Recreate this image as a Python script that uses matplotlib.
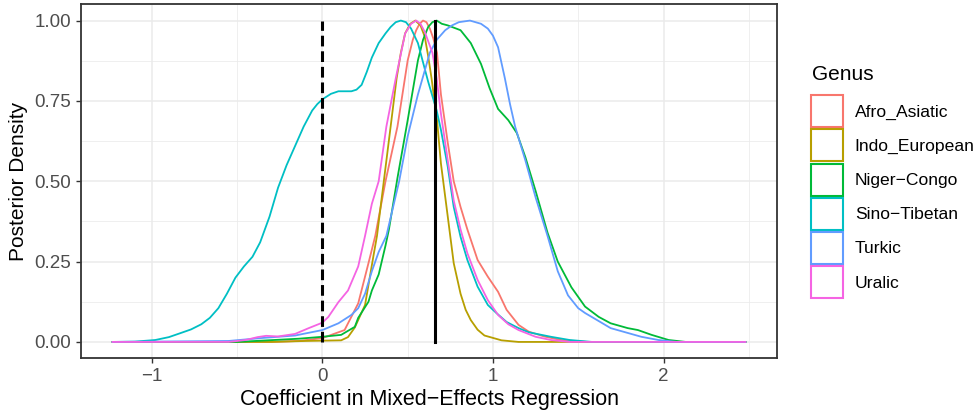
import matplotlib
matplotlib.use("Agg")
import matplotlib.pyplot as plt
from matplotlib.patches import Patch
from matplotlib.ticker import MultipleLocator

plt.rcParams["font.family"] = ["Liberation Sans", "DejaVu Sans"]

# genus names and ggplot hue colours
genera = ["Afro_Asiatic", "Indo_European", "Niger\u2212Congo", "Sino\u2212Tibetan", "Turkic", "Uralic"]
colors = ["#F8766D", "#B79F00", "#00BA38", "#00BFC4", "#619CFF", "#F564E3"]

# scaled posterior densities
afro_x = [-1.23, -0.30, -0.14, 0.00, 0.13, 0.21, 0.27, 0.31, 0.37, 0.44, 0.50, 0.53, 0.55, 0.57, 0.59,
          0.61, 0.63, 0.65, 0.672, 0.695, 0.735, 0.77, 0.81, 0.85, 0.91, 0.97, 1.03, 1.08, 1.15, 1.21,
          1.30, 1.40, 1.55, 2.48]
afro_y = [0, 0, 0.003, 0.012, 0.037, 0.12, 0.245, 0.33, 0.50, 0.67, 0.876, 0.94, 0.97, 0.99, 1.0,
          0.995, 0.975, 0.945, 0.90, 0.77, 0.62, 0.50, 0.42, 0.35, 0.255, 0.203, 0.156, 0.10, 0.053, 0.032,
          0.017, 0.006, 0, 0]

indo_x = [-1.23, -0.30, -0.10, 0.11, 0.15, 0.19, 0.25, 0.30, 0.32, 0.36, 0.40, 0.435, 0.46, 0.485,
          0.515, 0.545, 0.575, 0.60, 0.62, 0.64, 0.672, 0.695, 0.735, 0.77, 0.81, 0.84, 0.87, 0.91,
          0.95, 1.05, 1.15, 2.48]
indo_y = [0, 0, 0.003, 0.005, 0.015, 0.045, 0.115, 0.27, 0.33, 0.50, 0.67, 0.82, 0.90, 0.96,
          0.99, 1.0, 0.985, 0.95, 0.89, 0.82, 0.69, 0.555, 0.39, 0.245, 0.15, 0.10, 0.068, 0.038,
          0.02, 0.005, 0, 0]

niger_x = [-1.23, -0.50, -0.14, 0.00, 0.11, 0.19, 0.21, 0.27, 0.29, 0.33, 0.37, 0.39, 0.44, 0.50, 0.56,
           0.59, 0.62, 0.645, 0.67, 0.70, 0.735, 0.81, 0.87, 0.93, 0.98, 1.03, 1.09, 1.14, 1.19, 1.25,
           1.32, 1.38, 1.46, 1.54, 1.62, 1.69, 1.79, 1.85, 1.93, 2.03, 2.13, 2.48]
niger_y = [0, 0, 0.01, 0.016, 0.022, 0.047, 0.075, 0.125, 0.16, 0.21, 0.30, 0.35, 0.51, 0.69, 0.876,
           0.94, 0.98, 0.995, 1.0, 0.99, 0.985, 0.97, 0.93, 0.865, 0.79, 0.725, 0.69, 0.65, 0.575, 0.47,
           0.34, 0.25, 0.17, 0.11, 0.078, 0.058, 0.043, 0.037, 0.022, 0.006, 0, 0]

sino_x = [-1.23, -1.10, -0.98, -0.90, -0.84, -0.77, -0.71, -0.66, -0.61, -0.56, -0.51, -0.46, -0.41,
          -0.365, -0.31, -0.26, -0.21, -0.16, -0.11, -0.06, -0.03, 0.00, 0.05, 0.094, 0.17, 0.20, 0.23,
          0.26, 0.29, 0.33, 0.37, 0.40, 0.43, 0.46, 0.49, 0.52, 0.56, 0.59, 0.62, 0.67, 0.695, 0.735,
          0.77, 0.81, 0.85, 0.91, 0.97, 1.02, 1.08, 1.15, 1.21, 1.34, 1.45, 1.58, 2.48]
sino_y = [0, 0.001, 0.006, 0.015, 0.026, 0.039, 0.055, 0.075, 0.105, 0.15, 0.20, 0.235, 0.265,
          0.31, 0.39, 0.48, 0.55, 0.61, 0.67, 0.72, 0.74, 0.755, 0.772, 0.78, 0.78, 0.785, 0.80,
          0.84, 0.885, 0.93, 0.96, 0.98, 0.995, 1.0, 0.995, 0.975, 0.93, 0.87, 0.81, 0.72, 0.66, 0.545,
          0.42, 0.327, 0.255, 0.172, 0.115, 0.09, 0.062, 0.043, 0.03, 0.016, 0.006, 0, 0]

turkic_x = [-1.23, -0.55, -0.36, -0.16, 0.00, 0.094, 0.17, 0.21, 0.25, 0.29, 0.33, 0.375, 0.45, 0.50,
            0.56, 0.63, 0.67, 0.72, 0.76, 0.80, 0.865, 0.93, 0.97, 1.00, 1.03, 1.07, 1.10, 1.13, 1.19,
            1.25, 1.32, 1.38, 1.44, 1.50, 1.54, 1.62, 1.69, 1.79, 1.87, 1.97, 2.08, 2.48]
turkic_y = [0, 0.003, 0.012, 0.02, 0.037, 0.058, 0.084, 0.105, 0.15, 0.22, 0.28, 0.33, 0.50, 0.64,
            0.77, 0.90, 0.94, 0.97, 0.985, 0.995, 1.0, 0.99, 0.975, 0.953, 0.917, 0.82, 0.74, 0.67,
            0.565, 0.45, 0.33, 0.22, 0.145, 0.105, 0.09, 0.065, 0.043, 0.028, 0.016, 0.006, 0, 0]

uralic_x = [-1.23, -0.55, -0.45, -0.38, -0.33, -0.26, -0.16, -0.08, 0.00, 0.035, 0.094, 0.15, 0.21,
            0.25, 0.29, 0.33, 0.375, 0.43, 0.485, 0.52, 0.55, 0.575, 0.60, 0.645, 0.67, 0.695, 0.735,
            0.77, 0.81, 0.85, 0.91, 0.97, 1.03, 1.09, 1.15, 1.25, 1.34, 1.45, 2.48]
uralic_y = [0, 0, 0.006, 0.015, 0.019, 0.017, 0.025, 0.043, 0.06, 0.078, 0.124, 0.16, 0.235,
            0.33, 0.43, 0.50, 0.67, 0.82, 0.96, 0.99, 1.0, 0.99, 0.965, 0.90, 0.82, 0.71, 0.565,
            0.44, 0.35, 0.276, 0.193, 0.13, 0.084, 0.055, 0.037, 0.016, 0.006, 0, 0]

curves_x = [afro_x, indo_x, niger_x, sino_x, turkic_x, uralic_x]
curves_y = [afro_y, indo_y, niger_y, sino_y, turkic_y, uralic_y]

# reference lines: zero and the pooled estimate
zero_line = 0.0
pooled_estimate = 0.66

x_ticks = [-1, 0, 1, 2]
y_ticks = [0, 0.25, 0.5, 0.75, 1.0]

fig = plt.figure(figsize=(9.8, 4.15), dpi=100)
ax = fig.add_axes([81 / 980, 1 - 358 / 415, (777 - 81) / 980, (358 - 4.5) / 415])

for xs, ys, c, name in zip(curves_x, curves_y, colors, genera):
    ax.plot(xs, ys, color=c, lw=1.3, label=name, solid_joinstyle="round", zorder=3)

ax.plot([zero_line, zero_line], [0, 1], color="black", lw=2.2, ls=(0, (3.5, 1.6)), zorder=4)
ax.plot([pooled_estimate, pooled_estimate], [0, 1], color="black", lw=2.2, zorder=4)

# ggplot-like 5% expansion
xmin = min(min(x) for x in curves_x)
xmax = max(max(x) for x in curves_x)
pad = (xmax - xmin) * 0.05
ax.set_xlim(xmin - pad, xmax + pad)
ax.set_ylim(-0.05, 1.05)

ax.set_xticks(x_ticks)
ax.set_xticklabels(["\u22121", "0", "1", "2"])
ax.set_yticks(y_ticks)
ax.set_yticklabels(["0.00", "0.25", "0.50", "0.75", "1.00"])
ax.xaxis.set_minor_locator(MultipleLocator(0.5))
ax.yaxis.set_minor_locator(MultipleLocator(0.125))

ax.grid(which="major", color="#EBEBEB", lw=1.1, zorder=0)
ax.grid(which="minor", color="#EBEBEB", lw=0.55, zorder=0)
ax.set_axisbelow(True)
for s in ax.spines.values():
    s.set_color("#333333")
    s.set_linewidth(1.3)

ax.tick_params(which="major", length=3.5, width=1.0, color="#333333", labelsize=13.5,
               labelcolor="#4D4D4D", pad=3.5)
ax.tick_params(which="minor", length=0)

ax.set_xlabel("Coefficient in Mixed\u2212Effects Regression", fontsize=15.5, labelpad=3)
ax.set_ylabel("Posterior Density", fontsize=15, labelpad=5)

# legend: title as its own text so the gap below it matches ggplot
fig.text(812 / 980, 1 - 74 / 415, "Genus", fontsize=15, ha="left", va="center")
handles = [Patch(facecolor="white", edgecolor=c, lw=1.5) for c in colors]
leg = fig.legend(handles, genera, loc="upper left", bbox_to_anchor=(811 / 980, 1 - 95 / 415),
                 frameon=False, fontsize=12.6,
                 handlelength=1.8, handleheight=2.45, handletextpad=0.7, labelspacing=0.12,
                 borderpad=0, borderaxespad=0)

fig.savefig("out.png", dpi=100)
